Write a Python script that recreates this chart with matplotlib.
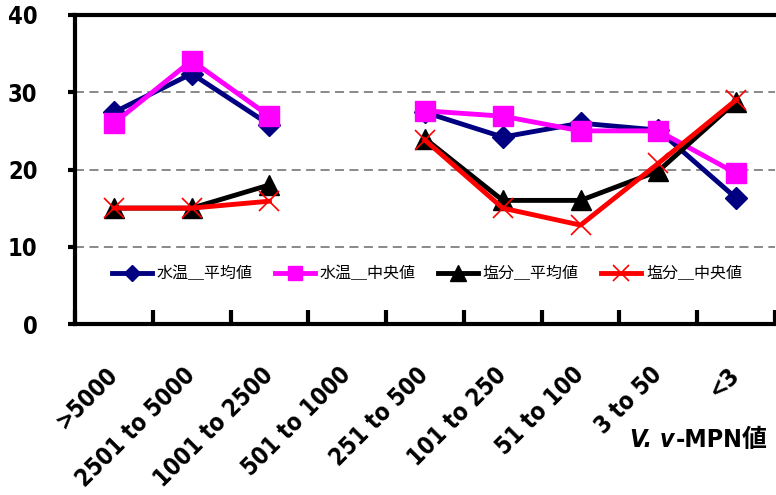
import numpy as np
import matplotlib.pyplot as plt

cjk = 'Noto Sans CJK JP'
lab = dict(fontfamily='DejaVu Sans', fontstretch='condensed', fontweight='bold')

categories = ['>5000', '2501 to 5000', '1001 to 2500', '501 to 1000', '251 to 500',
              '101 to 250', '51 to 100', '3 to 50', '<3']
nan = np.nan
temp_mean = [27.4, 32.4, 25.8, nan, 27.4, 24.2, 26.0, 25.1, 16.3]
temp_median = [26.0, 34.1, 26.9, nan, 27.6, 26.9, 25.0, 25.0, 19.5]
salt_mean = [15.0, 15.0, 18.0, nan, 24.0, 16.0, 16.0, 19.8, 28.8]
salt_median = [15.0, 15.0, 15.9, nan, 23.8, 15.0, 12.8, 20.8, 29.0]

x = np.arange(1, len(categories) + 1)

fig = plt.figure(figsize=(7.76, 4.95), dpi=100)
ax = fig.add_axes([75 / 776, 1 - 324 / 495, 700 / 776, 309 / 495])

for y in (10, 20, 30):
    ax.axhline(y, color='#808080', lw=1.3, ls=(0, (5, 3)), zorder=1)

ax.plot(x, temp_mean, color='#000080', lw=3.5, marker='D', ms=11,
        label='水温＿平均値', zorder=3)
ax.plot(x, temp_median, color='#ff00ff', lw=3.5, marker='s', ms=14,
        label='水温＿中央値', zorder=4)
ax.plot(x, salt_mean, color='black', lw=3.5, marker='^', ms=15,
        label='塩分＿平均値', zorder=5)
ax.plot(x, salt_median, color='red', lw=3.5, marker='x', ms=15, mew=1.2,
        label='塩分＿中央値', zorder=6)

ax.set_xlim(0.5, 9.5)
ax.set_ylim(0, 40)
ax.set_yticks([0, 10, 20, 30, 40])
ax.set_yticklabels(['0', '10', '20', '30', '40'], fontsize=17, **lab)
ax.tick_params(axis='y', direction='out', length=5, width=3, pad=22)

ax.set_xticks(np.arange(0.5, 10, 1))
ax.set_xticklabels([])
ax.tick_params(axis='x', which='major', direction='in', length=10, width=3)
ax.set_xticks(x, minor=True)
ax.set_xticklabels(categories, minor=True, rotation=45, ha='right', va='center',
                   rotation_mode='anchor', fontsize=17, **lab)
ax.tick_params(axis='x', which='minor', length=0, pad=34)

for side in ('left', 'bottom', 'top'):
    ax.spines[side].set_linewidth(3)
ax.spines['right'].set_visible(False)

ax.legend(loc='center left', bbox_to_anchor=((112 - 75) / 700, 0.162), ncol=4,
          frameon=False, prop={'family': cjk, 'size': 11.5}, handlelength=2.5,
          handletextpad=0.3, columnspacing=1.4, borderpad=0, borderaxespad=0,
          markerscale=0.75)

# axis title: italic species name followed by the MPN part
t1 = fig.text(630 / 776, 1 - 440 / 495, 'V. v', fontstyle='italic', fontsize=18,
              va='center', ha='left', **lab)
fig.canvas.draw()
bb = t1.get_window_extent()
fig.text(bb.x1 / fig.bbox.width + 0.002, 1 - 440 / 495, '-MPN値',
         fontfamily=['DejaVu Sans', cjk], fontstretch='condensed', fontweight='bold',
         fontsize=18, va='center', ha='left')

fig.savefig('out.png', dpi=100)
